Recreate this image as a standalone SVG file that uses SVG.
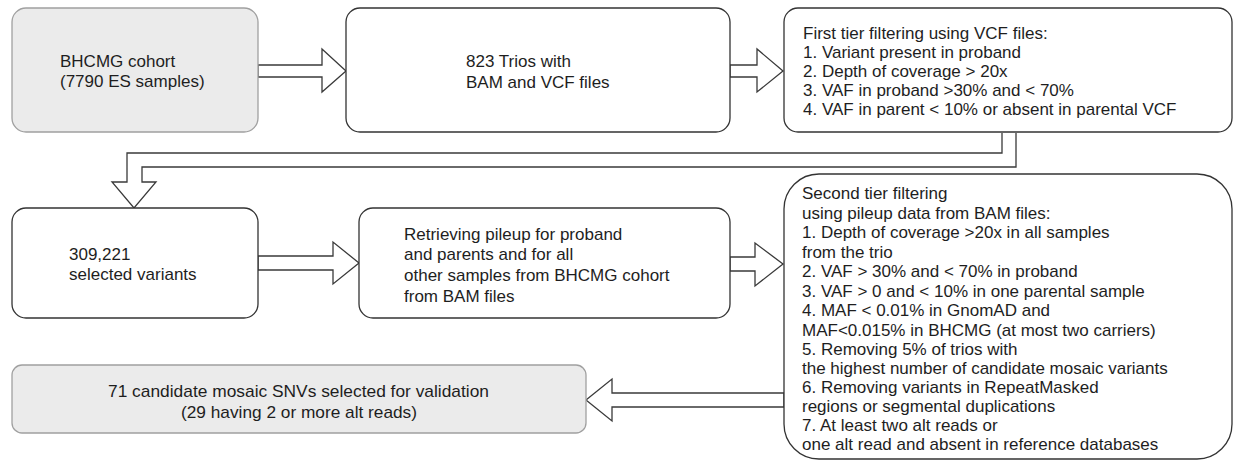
<svg xmlns="http://www.w3.org/2000/svg" width="1234" height="461" viewBox="0 0 1234 461">
<style>
.box{fill:#fff;stroke:#333;stroke-width:1.3}
.gbox{fill:#ebebeb;stroke:#a0a0a0;stroke-width:1.3}
.arr{fill:#fff;stroke:#3a3a3a;stroke-width:1.3;stroke-linejoin:miter}
text{font-family:"Liberation Sans",Arial,sans-serif;font-size:17px;fill:#1e1e1e}
</style>
<rect width="1234" height="461" fill="#fff"/>
<g id="connectors">
<path class="arr" d="M258,65 H322 V49 L346,71 L322,92 V77 H258 Z"/>
<path class="arr" d="M730,65 H757 V49 L783,71 L757,92 V77 H730 Z"/>
<path class="arr" d="M1002,133 V153 H127 V182 H112 L134,208 L156,182 H142 V167 H1016 V133"/>
<path class="arr" d="M258,256 H333 V242 L359,263 L333,284 V270 H258 Z"/>
<path class="arr" d="M730,257 H755 V243 L783,264 L755,286 V271 H730 Z"/>
<path class="arr" d="M784,393 H612 V379 L586,400 L612,421 V407 H784 Z"/>
</g>
<g id="n1">
<rect class="gbox" x="12" y="8" width="246" height="124" rx="14"/>
<text x="60" y="67">BHCMG cohort</text>
<text x="60" y="87">(7790 ES samples)</text>
</g>
<g id="n2">
<rect class="box" x="346" y="8" width="384" height="124" rx="14"/>
<text x="466" y="67">823 Trios with</text>
<text x="466" y="88">BAM and VCF files</text>
</g>
<g id="n3">
<rect class="box" x="784" y="8" width="448" height="124" rx="14"/>
<text x="803" y="39">First tier filtering using VCF files:</text>
<text x="803" y="58">1. Variant present in proband</text>
<text x="803" y="77">2. Depth of coverage &gt; 20x</text>
<text x="803" y="96">3. VAF in proband &gt;30% and &lt; 70%</text>
<text x="803" y="115">4. VAF in parent &lt; 10% or absent in parental VCF</text>
</g>
<g id="n4">
<rect class="box" x="12" y="208" width="246" height="110" rx="14"/>
<text x="69" y="260">309,221</text>
<text x="69" y="280">selected variants</text>
</g>
<g id="n5">
<rect class="box" x="359" y="208" width="371" height="110" rx="14"/>
<text x="404" y="240">Retrieving pileup for proband</text>
<text x="404" y="260">and parents and for all</text>
<text x="404" y="281">other samples from BHCMG cohort</text>
<text x="404" y="302">from BAM files</text>
</g>
<g id="n6">
<rect class="box" x="784" y="174" width="448" height="285" rx="35"/>
<text x="802" y="199">Second tier filtering</text>
<text x="802" y="219">using pileup data from BAM files:</text>
<text x="802" y="238">1. Depth of coverage &gt;20x in all samples</text>
<text x="802" y="258">from the trio</text>
<text x="802" y="277">2. VAF &gt; 30% and &lt; 70% in proband</text>
<text x="802" y="297">3. VAF &gt; 0 and &lt; 10% in one parental sample</text>
<text x="802" y="316">4. MAF &lt; 0.01% in GnomAD and</text>
<text x="802" y="336">MAF&lt;0.015% in BHCMG (at most two carriers)</text>
<text x="802" y="355">5. Removing 5% of trios with</text>
<text x="802" y="374">the highest number of candidate mosaic variants</text>
<text x="802" y="393">6. Removing variants in RepeatMasked</text>
<text x="802" y="412">regions or segmental duplications</text>
<text x="802" y="431">7. At least two alt reads or</text>
<text x="802" y="450">one alt read and absent in reference databases</text>
</g>
<g id="n7">
<rect class="gbox" x="12" y="365" width="574" height="68" rx="10"/>
<text x="298.5" y="397" text-anchor="middle" font-size="17.5" textLength="381" lengthAdjust="spacingAndGlyphs">71 candidate mosaic SNVs selected for validation</text>
<text x="299" y="418" text-anchor="middle" font-size="17.5" textLength="236" lengthAdjust="spacingAndGlyphs">(29 having 2 or more alt reads)</text>
</g>
</svg>
